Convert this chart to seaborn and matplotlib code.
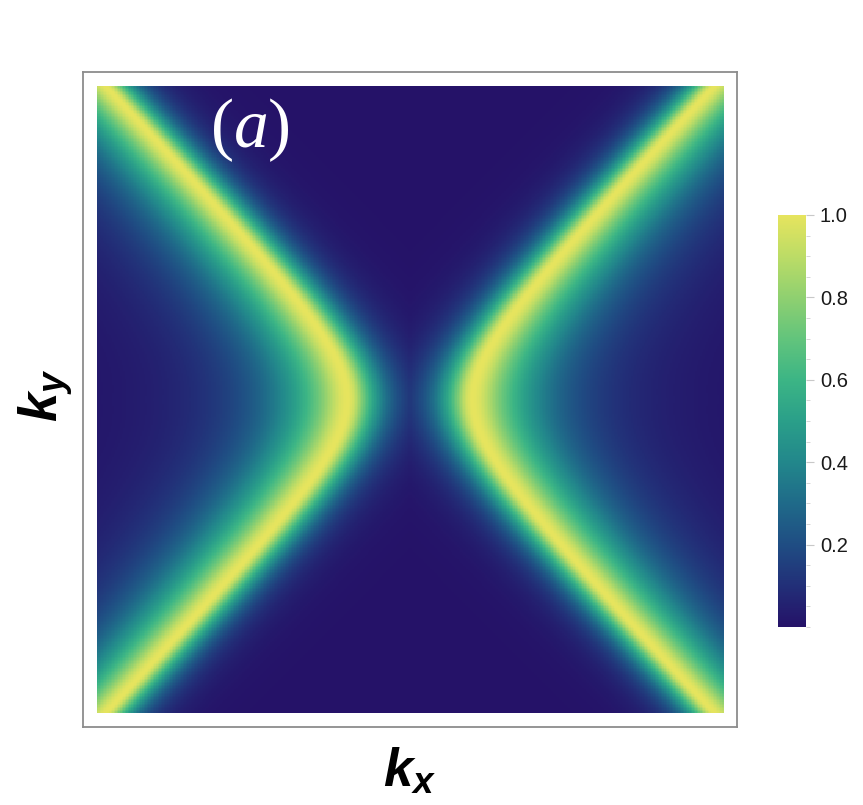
import numpy as np
import pandas as pd
import seaborn as sns
import matplotlib
matplotlib.use("Agg")
import matplotlib.pyplot as plt
from matplotlib.colors import LinearSegmentedColormap
from matplotlib.ticker import MultipleLocator

# ---- data / parameters ----
kx_range = [-1.0, 1.0]
ky_range = [-1.0, 1.0]
n_grid = 400
gap = 0.20            # half-gap of the hyperbolic bright branches at ky = 0
slope2 = 0.90         # squared asymptotic slope factor of the branches
core_width = 0.040    # rounding of the bright core
outer_decay = 0.19    # exponential decay length outside the branches
inner_decay = 0.08    # exponential decay length towards the centre
cbar_ticks = [0.2, 0.4, 0.6, 0.8, 1.0]
cbar_ticklabels = ["0.2", "0.4", "0.6", "0.8", "1.0"]
panel_label = r"$(a)$"
xlabel = r"$\mathbf{k}_\mathbf{x}$"
ylabel = r"$\mathbf{k}_\mathbf{y}$"

cmap_stops = [0.0, 0.1, 0.2, 0.3, 0.4, 0.5, 0.6, 0.7, 0.8, 0.9, 1.0]
cmap_colors = ["#251268", "#222f78", "#1f4d83", "#1f6a89", "#22878b", "#2a9f89",
               "#3cb585", "#62c47c", "#8fd070", "#bcdc66", "#e6e45e"]

# ---- field ----
kx = np.linspace(kx_range[0], kx_range[1], n_grid)
ky = np.linspace(ky_range[1], ky_range[0], n_grid)   # top row = max ky
KX, KY = np.meshgrid(kx, ky)
s = (np.abs(KX) - np.sqrt(slope2 * KY**2 + gap**2)) * (1 + 0.2 * np.abs(KY))
r = np.sqrt(s**2 + core_width**2) - core_width
field = np.where(s >= 0, np.exp(-r / outer_decay), np.exp(-r / inner_decay))
df = pd.DataFrame(field, index=ky, columns=kx)

# ---- style ----
sns.set_theme(style="white")
plt.rcParams["font.family"] = ["Liberation Sans", "DejaVu Sans"]
plt.rcParams["mathtext.fontset"] = "custom"
plt.rcParams["mathtext.rm"] = "Liberation Serif"
plt.rcParams["mathtext.it"] = "Liberation Serif:italic"
plt.rcParams["mathtext.bf"] = "Liberation Sans:bold:italic"

cmap = LinearSegmentedColormap.from_list("ref", list(zip(cmap_stops, cmap_colors)), N=512)

fig = plt.figure(figsize=(8.63, 8.05), dpi=100)
ax = fig.add_axes([83 / 863, (805 - 727) / 805, 654 / 863, 655 / 805])
cax = fig.add_axes([778 / 863, (805 - 627) / 805, 28 / 863, 412 / 805])

sns.heatmap(df, ax=ax, cmap=cmap, vmin=0.0, vmax=1.0, cbar_ax=cax,
            xticklabels=False, yticklabels=False, rasterized=True)

N = n_grid
padx = 13.5 / 627 * N
pady = 14.0 / 627 * N
ax.set_xlim(-padx, N + padx)
ax.set_ylim(N + pady, -pady)
ax.set_facecolor("white")
for sp in ax.spines.values():
    sp.set_visible(True)
    sp.set_color("#8c8c8c")
    sp.set_linewidth(1.3)
ax.set_xlabel("")
ax.set_ylabel("")
ax.tick_params(left=False, bottom=False)

ax.text(0.256, 0.912, panel_label, transform=ax.transAxes, color="white",
        fontsize=50, ha="center", va="center")

fig.text(410 / 863, 1 - 773 / 805, xlabel, fontsize=38, ha="center", va="center", color="black")
fig.text(46 / 863, 1 - 395 / 805, ylabel, fontsize=38, ha="center", va="center",
         rotation=90, color="black")

cbar = ax.collections[0].colorbar
cbar.outline.set_visible(False)
cbar.set_ticks(cbar_ticks)
cbar.set_ticklabels(cbar_ticklabels)
cax.yaxis.set_minor_locator(MultipleLocator(0.05))
cax.tick_params(which="major", length=6, width=0.8, color="#c8c8c8", labelsize=14.5,
                labelcolor="#1a1a1a", pad=4, direction="out")
cax.tick_params(which="minor", length=3, width=0.6, color="#d0d0d0", direction="out")
cax.yaxis.set_ticks_position("right")

fig.savefig("out.png", dpi=100)
